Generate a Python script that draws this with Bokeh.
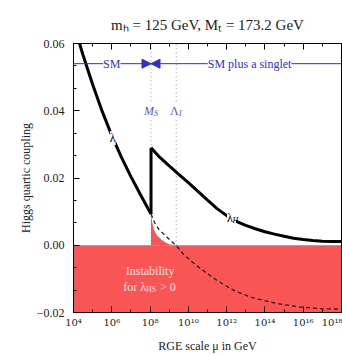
import numpy as np
from bokeh.plotting import figure
from bokeh.models import (Label, Span, Arrow, NormalHead, FixedTicker, LogAxis,
                          CustomJSTickFormatter)
from bokeh.embed import file_html
from bokeh.resources import INLINE

# ---- data (x = log10 of RGE scale mu in GeV) ----
sm_exp = [4.0, 4.5, 5.0, 5.5, 6.0, 6.5, 7.0, 7.5, 8.05]
sm_lambda = [0.0660, 0.0565, 0.0478, 0.0398, 0.0326, 0.0262, 0.0204, 0.0150, 0.0093]

lh_exp = [8.05, 8.5, 9.0, 9.5, 10.0, 10.5, 11.0, 11.5, 12.0, 12.5, 13.0, 13.5,
          14.0, 14.5, 15.0, 15.5, 16.0, 16.5, 17.0, 17.5, 18.0]
lh_lambda = [0.029, 0.0262, 0.0236, 0.0211, 0.0186, 0.0160, 0.0134, 0.0109, 0.0088,
             0.0071, 0.0059, 0.0049, 0.0040, 0.0033, 0.0027, 0.0021, 0.0017,
             0.0014, 0.0012, 0.0011, 0.0011]

dash_exp = [8.05, 8.25, 8.46, 8.7, 9.0, 9.4, 9.75, 10.2, 10.7, 11.5, 12.4, 13.3,
            14.2, 15.0, 16.0, 17.0, 18.0]
dash_lambda = [0.0093, 0.0066, 0.0047, 0.0034, 0.0018, -0.0003, -0.0027, -0.0050,
               -0.0072, -0.0105, -0.0135, -0.0155, -0.0168, -0.0177, -0.0185,
               -0.0189, -0.0190]

red_exp = [8.05, 8.12, 8.2, 8.35, 8.57, 8.8, 9.0, 9.3]
red_lambda = [0.0093, 0.0066, 0.0047, 0.0030, 0.0018, 0.0008, 0.0003, 0.0]

ms_exp = 8.05        # M_S
lam_i_exp = 9.37     # Lambda_I
arrow_y = 0.054

x_tick_exp = [4, 6, 8, 10, 12, 14, 16, 18]
x_minor_exp = [5, 7, 9, 11, 13, 15, 17]
y_ticks = [-0.02, 0.0, 0.02, 0.04, 0.06]

x_lo, x_hi = 1e4, 1e18
y_lo, y_hi = -0.02, 0.06

title_text = "m\u2095 = 125 GeV, M\u209c = 173.2 GeV"

SERIF = "Liberation Serif"
BLUE = "#3030C8"
LBLUE = "#5a5ac0"
RED = "#FA5555"

p = figure(width=342, height=355, x_axis_type="log", x_range=(x_lo, x_hi),
           y_range=(y_lo, y_hi), output_backend="svg", toolbar_location=None,
           min_border_left=73, min_border_right=1, min_border_top=43,
           min_border_bottom=41)
p.grid.visible = False
p.outline_line_color = "black"
p.outline_line_width = 1
p.background_fill_color = "white"
p.border_fill_color = "white"

p.title.text = title_text
p.title.align = "center"
p.title.text_font = SERIF
p.title.text_font_size = "15px"
p.title.text_font_style = "normal"
p.title.text_color = "#222222"
p.title.standoff = 21

to_mu = lambda e: [10.0 ** v for v in e]

# vertical dotted threshold lines
for e in (ms_exp, lam_i_exp):
    p.segment(x0=[10 ** e], y0=[0.0], x1=[10 ** e], y1=[y_hi],
              line_color="#a8a8cc", line_width=1.2, line_dash="1 3")

# instability region
p.varea(x=[x_lo, x_hi], y1=[y_lo, y_lo], y2=[0.0, 0.0], fill_color=RED)
p.varea(x=to_mu(red_exp), y1=[0.0] * len(red_exp), y2=red_lambda, fill_color=RED)

# SM continuation (dashed)
p.line(to_mu(dash_exp), dash_lambda, line_color="#222222", line_width=1.3,
       line_dash="4 3")

# curves
p.line(to_mu(sm_exp), sm_lambda, line_color="black", line_width=3)
p.line(to_mu(lh_exp), lh_lambda, line_color="black", line_width=3)
p.segment(x0=[10 ** ms_exp], y0=[sm_lambda[-1]], x1=[10 ** ms_exp], y1=[lh_lambda[0]],
          line_color="black", line_width=3)

# axes
ax = p.xaxis[0]
ax.ticker = FixedTicker(ticks=to_mu(x_tick_exp), minor_ticks=to_mu(x_minor_exp))
sup_js = """
const sup = {'0':'\u2070','1':'\u00b9','2':'\u00b2','3':'\u00b3','4':'\u2074',
             '5':'\u2075','6':'\u2076','7':'\u2077','8':'\u2078','9':'\u2079'};
const e = Math.round(Math.log10(tick));
return '10' + String(e).split('').map(c => sup[c]).join('');
"""
ax.formatter = CustomJSTickFormatter(code=sup_js)
ax.axis_label = "RGE scale \u03bc in GeV"

ay = p.yaxis[0]
ay.ticker = FixedTicker(ticks=y_ticks,
                        minor_ticks=[round(-0.02 + i * 0.02 / 3, 5) for i in range(13)])
ay.formatter = CustomJSTickFormatter(
    code="return (tick < -1e-9 ? '\u2212' : '') + Math.abs(tick).toFixed(2);")
ay.axis_label = "Higgs quartic coupling"

for a in (ax, ay):
    a.major_tick_in = 6
    a.major_tick_out = 0
    a.minor_tick_in = 3
    a.minor_tick_out = 0
    a.axis_line_color = "black"
    a.major_label_text_font = SERIF
    a.major_label_text_font_size = "12px"
    a.major_label_text_color = "#222222"
    a.axis_label_text_font = SERIF
    a.axis_label_text_font_size = "12px"
    a.axis_label_text_font_style = "normal"
    a.axis_label_text_color = "#222222"
ax.major_label_text_font = "DejaVu Serif"
ax.major_label_text_font_size = "10px"
ax.major_label_standoff = 4
ax.axis_label_standoff = 8
ay.major_label_standoff = 9
ay.axis_label_standoff = 1

top = LogAxis(ticker=FixedTicker(ticks=to_mu(x_tick_exp), minor_ticks=to_mu(x_minor_exp)),
              formatter=CustomJSTickFormatter(code="return '';"),
              major_tick_in=6, major_tick_out=0,
              minor_tick_in=3, minor_tick_out=0, major_label_standoff=0)
p.add_layout(top, "above")

# SM / SM plus a singlet arrow line
p.add_layout(Span(location=arrow_y, dimension="width", line_color=BLUE, line_width=1))
p.add_layout(Arrow(end=NormalHead(size=9, fill_color=BLUE, line_color=BLUE),
                   x_start=10 ** 7.4, y_start=arrow_y, x_end=10 ** ms_exp, y_end=arrow_y,
                   line_alpha=0))
p.add_layout(Arrow(end=NormalHead(size=9, fill_color=BLUE, line_color=BLUE),
                   x_start=10 ** 8.7, y_start=arrow_y, x_end=10 ** ms_exp, y_end=arrow_y,
                   line_alpha=0))


def lab(x, y, text, size="12px", color="black", style="normal", bg=None,
        xo=0, yo=0, align="center"):
    l = Label(x=x, y=y, text=text, text_font=SERIF, text_font_size=size,
              text_color=color, text_font_style=style, text_align=align,
              text_baseline="middle", x_offset=xo, y_offset=yo)
    if bg:
        l.background_fill_color = bg
    p.add_layout(l)


lab(10 ** 6.0, arrow_y, "SM", color=BLUE, bg="white")
lab(10 ** 13.2, arrow_y, "SM plus a singlet", color=BLUE, bg="white")

# threshold labels
lab(10 ** ms_exp, 0.040, "M", color=LBLUE, style="italic", bg="white", xo=-2)
lab(10 ** ms_exp, 0.040, "S", size="8px", color=LBLUE, style="italic", xo=5, yo=-3)
lab(10 ** lam_i_exp, 0.040, "\u039b", color=LBLUE, bg="white", xo=-2)
lab(10 ** lam_i_exp, 0.040, "I", size="8px", color=LBLUE, style="italic", xo=4, yo=-3)

# curve labels
lab(10 ** 6.05, 0.0318, "\u03bb", bg="white")
lab(10 ** 12.2, 0.0082, "\u03bb ", bg="white", xo=1)
lab(10 ** 12.2, 0.0082, "H", size="8px", style="italic", xo=5, yo=-3)

# instability text
IC = "#ffe4e4"
lab(10 ** 8.0, -0.0077, "Instability", color=IC)
lab(10 ** 8.0, -0.0124, "for \u03bb", color=IC, align="right", xo=-4)
lab(10 ** 8.0, -0.0124, "HS", size="8px", color=IC, align="left", xo=-4, yo=-3)
lab(10 ** 8.0, -0.0124, "> 0", color=IC, align="left", xo=10)

open("out.html", "w").write(file_html(p, INLINE))
